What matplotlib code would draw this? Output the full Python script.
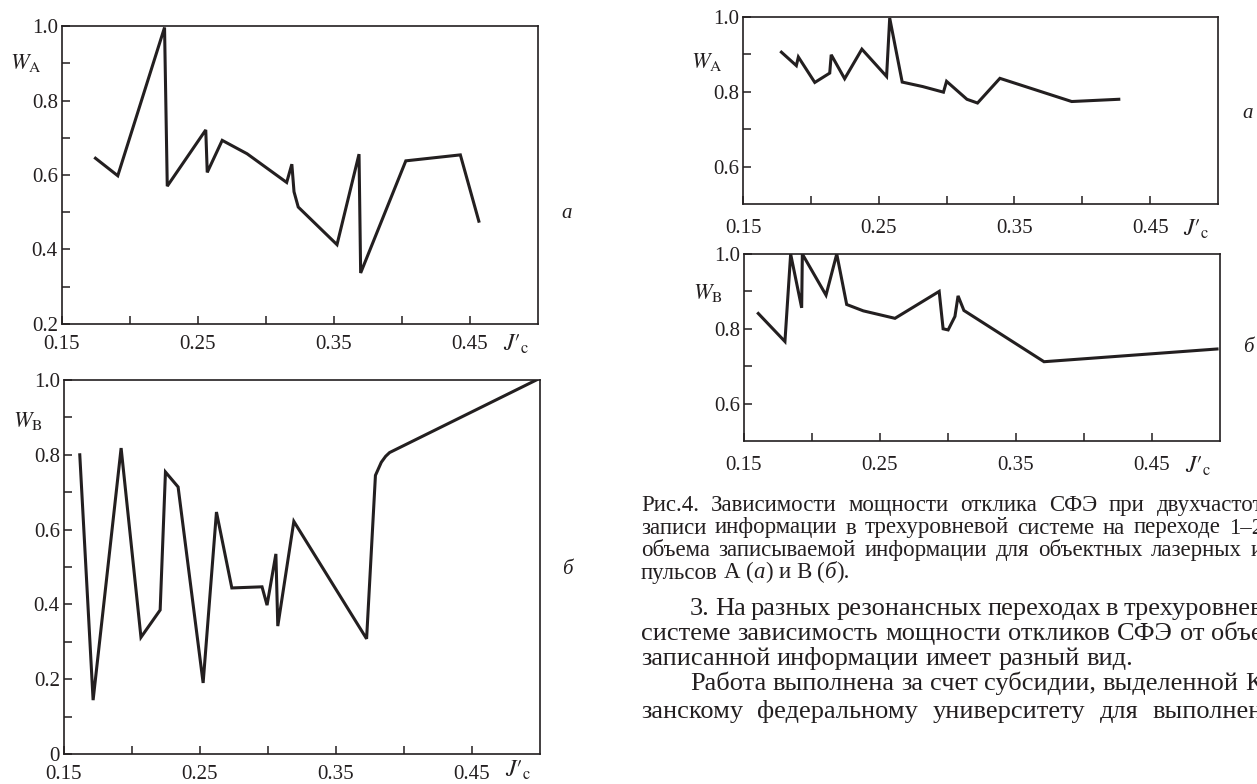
import matplotlib
matplotlib.use("Agg")
import matplotlib.pyplot as plt

plt.rcParams['font.family'] = ['Liberation Serif', 'DejaVu Serif']
plt.rcParams['mathtext.fontset'] = 'stix'

INK = '#231f20'
W, H = 1257, 784

# left column, Fig. (a) - W_A vs J'c
xa_left = [0.1746, 0.191, 0.2254, 0.2274, 0.2557, 0.2568, 0.2678, 0.2861, 0.3152, 0.3190,
           0.3206, 0.3237, 0.3522, 0.3684, 0.3696, 0.4028, 0.4429, 0.4565]
wa_left = [0.645, 0.598, 0.996, 0.570, 0.721, 0.607, 0.693, 0.657, 0.580, 0.629,
           0.555, 0.514, 0.413, 0.656, 0.337, 0.638, 0.654, 0.476]

# left column, Fig. (b) - W_B vs J'c
xb_left = [0.1616, 0.1714, 0.192, 0.2066, 0.2207, 0.2246, 0.2339, 0.2523, 0.2621, 0.2734,
           0.2956, 0.2993, 0.3058, 0.3072, 0.319, 0.3725, 0.379, 0.3833, 0.3865, 0.3894, 0.4973]
wb_left = [0.80, 0.144, 0.818, 0.312, 0.385, 0.754, 0.714, 0.190, 0.647, 0.444,
           0.447, 0.398, 0.535, 0.342, 0.622, 0.308, 0.745, 0.780, 0.796, 0.806, 1.0]

# right column, Fig.4 (a)
xa_right = [0.1783, 0.1893, 0.1908, 0.2029, 0.2139, 0.2150, 0.2249, 0.2376, 0.2558, 0.2581,
            0.2673, 0.2824, 0.2977, 0.3000, 0.3150, 0.3228, 0.3393, 0.3922, 0.4269]
wa_right = [0.906, 0.870, 0.893, 0.825, 0.850, 0.899, 0.835, 0.914, 0.841, 0.997,
            0.826, 0.814, 0.799, 0.828, 0.780, 0.770, 0.836, 0.774, 0.780]

# right column, Fig.4 (б)
xb_right = [0.1605, 0.1801, 0.1843, 0.1924, 0.1929, 0.2103, 0.2182, 0.2255, 0.2377, 0.2610,
            0.2935, 0.2964, 0.3001, 0.3051, 0.3074, 0.3117, 0.3706, 0.4978]
wb_right = [0.841, 0.766, 1.0, 0.856, 1.0, 0.890, 1.0, 0.865, 0.848, 0.828,
            0.900, 0.800, 0.797, 0.833, 0.888, 0.849, 0.712, 0.746]

x_ticks = [0.15, 0.20, 0.25, 0.30, 0.35, 0.40, 0.45]
x_labels = ['0.15', '', '0.25', '', '0.35', '', '0.45']

caption = [
    "Рис.4. Зависимости мощности отклика СФЭ при двухчастот",
    "записи информации в трехуровневой системе на переходе 1–2",
    "объема записываемой информации для объектных лазерных и",
]
body = [
    "3. На разных резонансных переходах в трехуровнев",
    "системе зависимость мощности откликов СФЭ от объе",
    "записанной информации имеет разный вид.",
    "Работа выполнена за счет субсидии, выделенной К",
    "занскому федеральному университету для выполнен",
]

fig = plt.figure(figsize=(12.57, 7.84), dpi=100)


def rect(x0, y0, x1, y1):
    return [x0 / W, 1 - y1 / H, (x1 - x0) / W, (y1 - y0) / H]


def panel(box, x, y, ylo, major, minor, ylabels, name, name_y, xpad, jdy):
    ax = fig.add_axes(rect(*box))
    ax.plot(x, y, color=INK, lw=2.2, solid_joinstyle='miter')
    ax.set_xlim(0.15, 0.5)
    ax.set_ylim(ylo, 1.0)
    ax.set_xticks(x_ticks)
    ax.set_xticklabels(x_labels)
    ax.set_yticks(major)
    ax.set_yticklabels(ylabels)
    ax.set_yticks(minor, minor=True)
    ax.tick_params(which='both', direction='in', length=6, width=1.1, colors=INK,
                   labelsize=15, top=False, right=False)
    ax.tick_params(axis='x', pad=xpad)
    ax.tick_params(axis='y', pad=3)
    for s in ax.spines.values():
        s.set_linewidth(1.2)
        s.set_color(INK)
    ax.annotate(r"$J′_{\rm c}$", xy=(0.484, 0), xycoords=('data', 'axes fraction'),
                xytext=(0, -jdy), textcoords='offset points', ha='center', va='center',
                fontsize=17, color=INK)
    ax.annotate(name, xy=(0, name_y), xycoords=('axes fraction', 'data'),
                xytext=(-26, 0), textcoords='offset points', ha='center', va='center',
                fontsize=16, color=INK)
    return ax


panel((62, 26, 538, 324), xa_left, wa_left, 0.2, [0.2, 0.4, 0.6, 0.8, 1.0], [0.3, 0.5, 0.7, 0.9],
      ['0.2', '0.4', '0.6', '0.8', '1.0'], r"$W_{\rm A}$", 0.9, 8, 15)
panel((64, 380, 540, 754), xb_left, wb_left, 0.0, [0, 0.2, 0.4, 0.6, 0.8, 1.0], [0.1, 0.3, 0.5, 0.7, 0.9],
      ['0', '0.2', '0.4', '0.6', '0.8', '1.0'], r"$W_{\rm B}$", 0.89, 8, 11.5)
panel((743, 17, 1218, 204), xa_right, wa_right, 0.5, [0.6, 0.8, 1.0], [0.7, 0.9],
      ['0.6', '0.8', '1.0'], r"$W_{\rm A}$", 0.88, 11, 18)
panel((744, 254, 1220, 441), xb_right, wb_right, 0.5, [0.6, 0.8, 1.0], [0.7, 0.9],
      ['0.6', '0.8', '1.0'], r"$W_{\rm B}$", 0.895, 11, 18)

# panel letters
for px, py, s in [(567, 213, 'a'), (567, 570, 'б'), (1248, 113, 'a'), (1248, 348, 'б')]:
    fig.text(px / W, 1 - py / H, s, style='italic', fontsize=15, color=INK, ha='center', va='center')

renderer = fig.canvas.get_renderer()


def line_of_words(tokens, x0, base, size, x1=None):
    # tokens: (text, style, gap before in spaces)
    arts = []
    for t, st, g in tokens:
        arts.append(fig.text(0, 1 - base / H, t, fontsize=size, style=st, color=INK, va='baseline'))
    widths = [a.get_window_extent(renderer).width for a in arts]
    probe1 = fig.text(0, 0, "a a", fontsize=size)
    probe2 = fig.text(0, 0, "aa", fontsize=size)
    sp = probe1.get_window_extent(renderer).width - probe2.get_window_extent(renderer).width
    probe1.remove()
    probe2.remove()
    ngaps = sum(g for _, _, g in tokens)
    if x1 is not None and ngaps > 0:
        sp = max((x1 - x0 - sum(widths)) / ngaps, 0.6 * sp)
    x = x0
    for a, w, (_, _, g) in zip(arts, widths, tokens):
        x += g * sp
        a.set_x(x / W)
        x += w


def words(s):
    return [(w, 'normal', 0 if i == 0 else 1) for i, w in enumerate(s.split(' '))]


cap_size = 16.5
cap_base = [511, 533.5, 556, 578.5]
for i, s in enumerate(caption):
    line_of_words(words(s), 641, cap_base[i], cap_size, 1263)
line_of_words([("пульсов", 'normal', 0), ("А", 'normal', 1), ("(", 'normal', 1), ("а", 'italic', 0),
               (")", 'normal', 0), ("и", 'normal', 1), ("В", 'normal', 1), ("(", 'normal', 1),
               ("б", 'italic', 0), (").", 'normal', 0)], 641, cap_base[3], cap_size)

body_size = 19
body_base = [615, 640, 665, 690, 718]
for i, s in enumerate(body):
    indent = 690 if i in (0, 3) else 641
    end = None if i == 2 else 1263
    line_of_words(words(s), indent, body_base[i], body_size, end)

fig.savefig('out.png', dpi=100)
